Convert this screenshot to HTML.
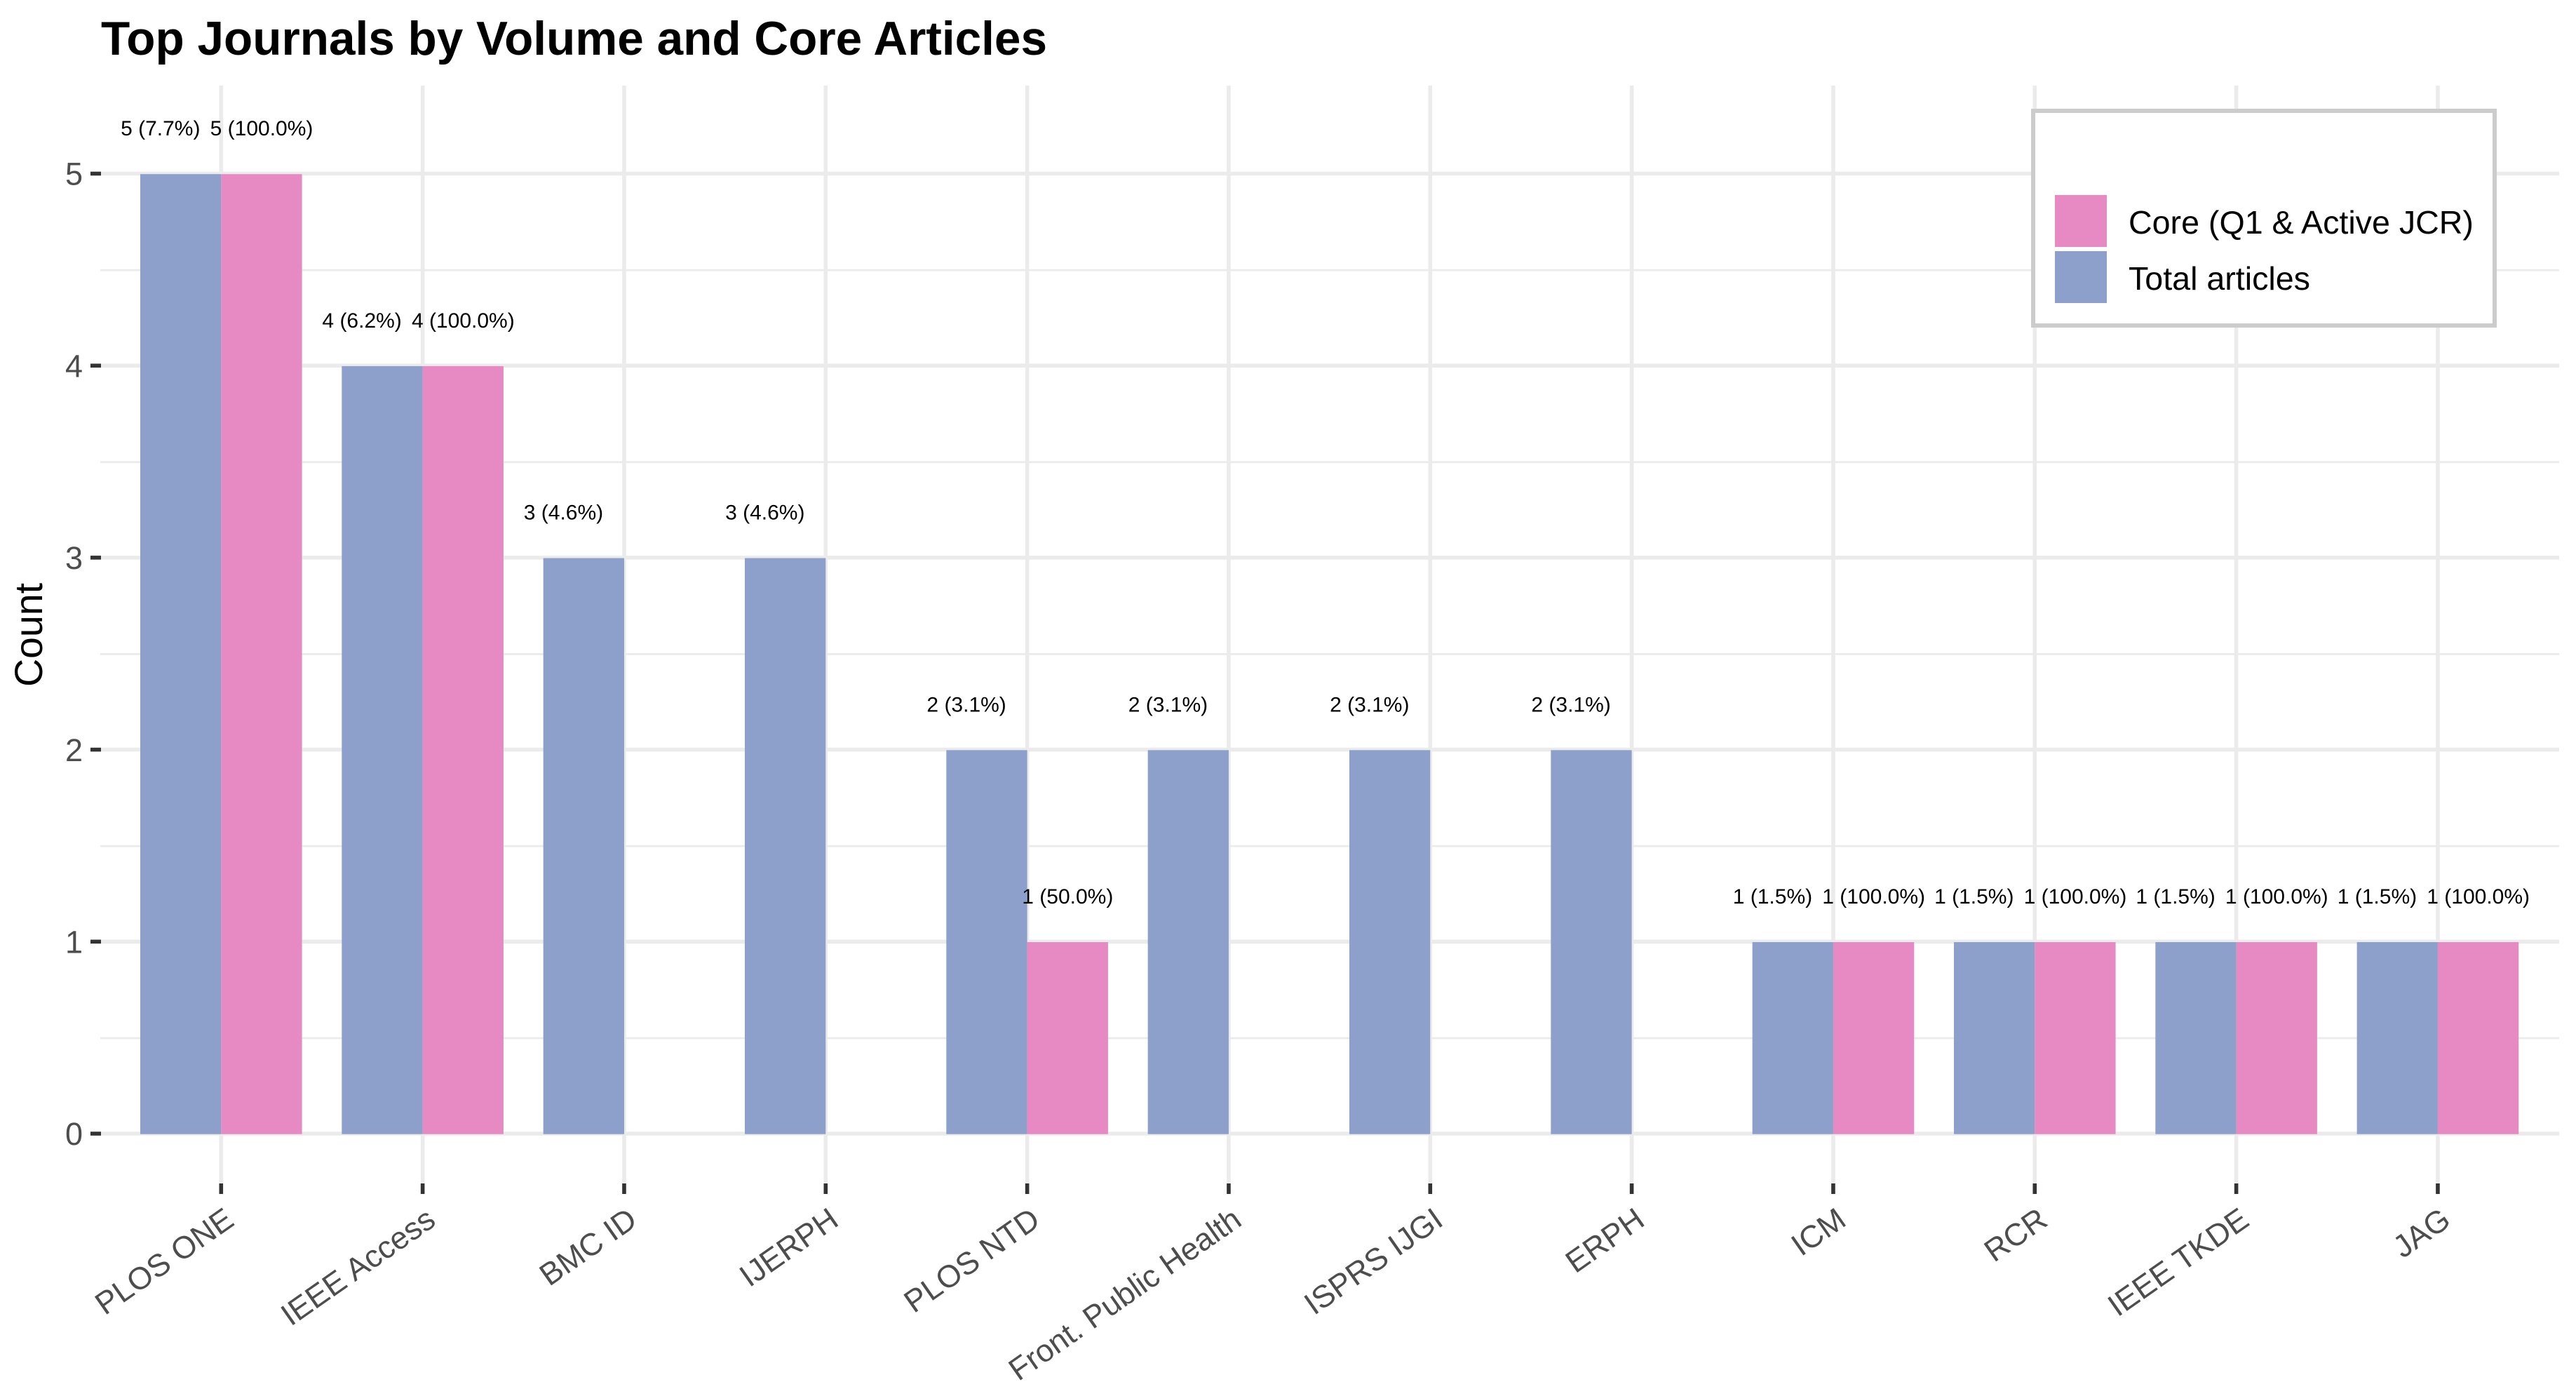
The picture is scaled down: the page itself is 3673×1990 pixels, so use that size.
<!DOCTYPE html>
<html lang="en">
<head>
<meta charset="utf-8">
<title>Top Journals by Volume and Core Articles</title>
<style>
html,body{margin:0;padding:0;background:#fff;}
body{width:3673px;height:1990px;overflow:hidden;}
svg{display:block;font-family:"Liberation Sans",Arial,sans-serif;}
</style>
</head>
<body>
<svg id="chart" xmlns="http://www.w3.org/2000/svg" width="3673" height="1990" viewBox="0 0 3673 1990">
  <rect x="0" y="0" width="3673" height="1990" fill="#ffffff"/>
  <text x="144" y="78" font-size="67.5" font-weight="700" fill="#000000">Top Journals by Volume and Core Articles</text>
  <text transform="translate(60,905) rotate(-90)" text-anchor="middle" font-size="55.5" fill="#000000">Count</text>
  <g id="grid"></g>
  <g id="bars"></g>
  <g id="labels"></g>
  <g id="axes"></g>
  <g>
    <rect x="2899" y="158" width="658" height="306" fill="#ffffff" stroke="#cccccc" stroke-width="6"/>
    <rect x="2930" y="278" width="74" height="74" fill="#E78AC3"/>
    <text x="3035" y="333" font-size="46.6" fill="#000000">Core (Q1 &amp; Active JCR)</text>
    <rect x="2930" y="358" width="74" height="74" fill="#8DA0CB"/>
    <text x="3035" y="413" font-size="46.6" fill="#000000">Total articles</text>
  </g>
</svg>
<script>
var categories = ["PLOS ONE","IEEE Access","BMC ID","IJERPH","PLOS NTD","Front. Public Health","ISPRS IJGI","ERPH","ICM","RCR","IEEE TKDE","JAG"];
var totalValues = [5,4,3,3,2,2,2,2,1,1,1,1];
var coreValues = [5,4,0,0,1,0,0,0,1,1,1,1];
var totalShares = [7.7,6.2,4.6,4.6,3.1,3.1,3.1,3.1,1.5,1.5,1.5,1.5];
var coreShares = [100,100,0,0,50,0,0,0,100,100,100,100];
var yTicks = [0,1,2,3,4,5];
var yMinorTicks = [0.5,1.5,2.5,3.5,4.5];

var NS = "http://www.w3.org/2000/svg";
var panel = {left:143, right:3649, top:122, bottom:1687};
var barWidth = 115.3;
function xScale(i){ return 315.3 + i * 287.33; }
function yScale(v){ return 1616.7 - v * 273.7; }
function make(tag, parentId, attrs, text){
  var el = document.createElementNS(NS, tag);
  for (var k in attrs) el.setAttribute(k, attrs[k]);
  if (text !== undefined) el.textContent = text;
  document.getElementById(parentId).appendChild(el);
  return el;
}
function label(v, share){ return v + " (" + share.toFixed(1) + "%)"; }

yMinorTicks.forEach(function(v){
  var el = make("line","grid",{x1:panel.left,x2:panel.right,y1:yScale(v),y2:yScale(v),stroke:"#EBEBEB","stroke-width":2.8});
  
  
});
yTicks.forEach(function(v){
  var el = make("line","grid",{x1:panel.left,x2:panel.right,y1:yScale(v)-0.7,y2:yScale(v)-0.7,stroke:"#EBEBEB","stroke-width":5.6});
  
  
  var tick = make("line","axes",{x1:129,x2:144,y1:yScale(v)-0.7,y2:yScale(v)-0.7,stroke:"#333333","stroke-width":5.6});
  
  
  var t = make("text","axes",{x:118,y:yScale(v)+15.5,"text-anchor":"end","font-size":45,fill:"#4D4D4D"},String(v));
  
  
});
categories.forEach(function(name,i){
  var cx = xScale(i);
  var g = make("line","grid",{x1:cx,x2:cx,y1:panel.top,y2:panel.bottom,stroke:"#EBEBEB","stroke-width":5.6});
  
  
  var tick = make("line","axes",{x1:cx,x2:cx,y1:1687,y2:1702,stroke:"#333333","stroke-width":5.6});
  
  
  var ax = cx + 21, ay = 1745;
  var t = make("text","axes",{x:ax,y:ay,"text-anchor":"end","font-size":44.6,fill:"#4D4D4D",transform:"rotate(-35 "+ax+" "+ay+")"},name);
  
  

  var base = yScale(0);
  var tv = totalValues[i];
  var bt = make("rect","bars",{x:cx-barWidth,y:yScale(tv),width:barWidth,height:base-yScale(tv),fill:"#8DA0CB"});
  
  
  var lt = make("text","labels",{x:cx-86.5,y:yScale(tv)-55,"text-anchor":"middle","font-size":30,fill:"#000000"},label(tv,totalShares[i]));
  
  

  var cv = coreValues[i];
  if (cv > 0) {
    var bc = make("rect","bars",{x:cx,y:yScale(cv),width:barWidth,height:base-yScale(cv),fill:"#E78AC3"});
    
    
    var lc = make("text","labels",{x:cx+57.7,y:yScale(cv)-55,"text-anchor":"middle","font-size":30,fill:"#000000"},label(cv,coreShares[i]));
    
    
  }
});
</script>
</body>
</html>
